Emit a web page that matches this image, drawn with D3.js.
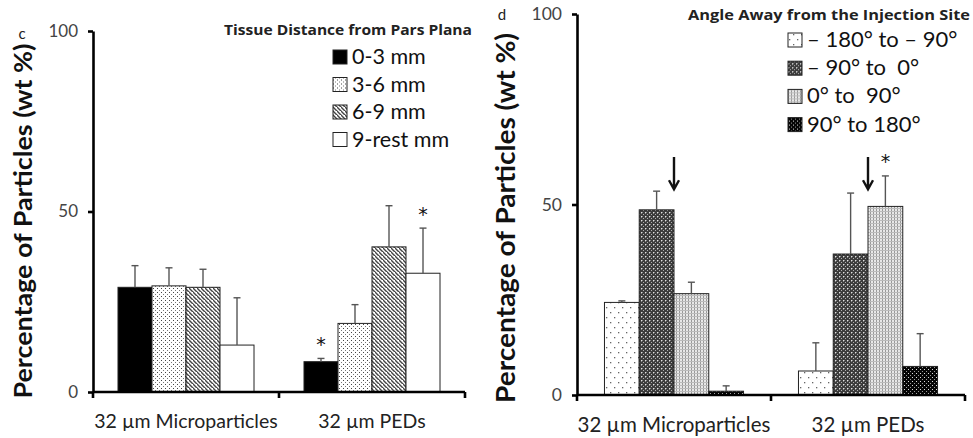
<!DOCTYPE html>
<html>
<head>
<meta charset="utf-8">
<script src="https://cdn.jsdelivr.net/npm/d3@7"></script>
<style>
  html, body { margin: 0; padding: 0; background: #fff; }
  svg { display: block; font-family: Lato, "Open Sans", sans-serif; }
  .pre { white-space: pre; }
</style>
</head>
<body>
<svg id="chart" width="973" height="438"></svg>
<script>
// ---- data ----
const categories = ["32 µm Microparticles", "32 µm PEDs"];
const yTicks = [0, 50, 100];

// panel c: tissue distance from pars plana
const distanceSeries = ["0-3 mm", "3-6 mm", "6-9 mm", "9-rest mm"];
const distanceMicro = [29.0, 29.4, 29.0, 13.0];
const distanceMicroErr = [6.0, 5.0, 5.0, 13.1];
const distancePED = [8.4, 19.0, 40.2, 32.9];
const distancePEDErr = [0.9, 5.2, 11.4, 12.5];
const distanceStars = [[1, 0], [1, 3]]; // [category, series]

// panel d: angle away from the injection site
const angleSeries = ["– 180° to – 90°", "– 90° to  0°", "0° to  90°", "90° to 180°"];
const angleMicro = [24.3, 48.6, 26.6, 1.0];
const angleMicroErr = [0.4, 4.9, 3.0, 1.4];
const anglePED = [6.3, 37.0, 49.5, 7.5];
const anglePEDErr = [7.4, 16.0, 8.0, 8.6];
const angleStars = [[1, 2]];
const angleArrows = [[0, 1], [1, 1]]; // arrow at right edge of these bars

const svg = d3.select("#chart");
const defs = svg.append("defs");

// ---- fill patterns ----
function pattern(id, w, h, bg, draw) {
  const p = defs.append("pattern").attr("id", id)
    .attr("patternUnits", "userSpaceOnUse").attr("width", w).attr("height", h);
  p.append("rect").attr("width", w).attr("height", h).attr("fill", bg);
  draw(p);
}
const dot = (p, x, y, c, s = 1) => p.append("rect").attr("x", x).attr("y", y)
  .attr("width", s).attr("height", s).attr("fill", c);

pattern("fineDots", 4, 4, "#fff", p => { dot(p, 0, 0, "#444"); dot(p, 2, 2, "#777"); });
pattern("hatch", 4, 4, "#fff", p => {
  p.append("path").attr("d", "M-1,-1 L5,5 M-3,1 L1,5 M3,-3 L7,1")
    .attr("stroke", "#444").attr("stroke-width", 1.4);
});
pattern("sparseDots", 8, 10, "#fff", p => { dot(p, 1, 2, "#666", 1.3); dot(p, 5, 7, "#666", 1.3); });
pattern("darkCheck", 4, 4, "#3c3c3c", p => {
  dot(p, 0, 0, "#e0e0e0"); dot(p, 2, 2, "#b0b0b0"); dot(p, 1, 0, "#888"); dot(p, 0, 1, "#888");
});
pattern("lightGrid", 3, 3, "#e8e8e8", p => {
  p.append("rect").attr("x", 0).attr("y", 0).attr("width", 1).attr("height", 3).attr("fill", "#999");
  p.append("rect").attr("x", 0).attr("y", 1).attr("width", 3).attr("height", 1).attr("fill", "#bbb");
});
pattern("blackDots", 4, 4, "#050505", p => { dot(p, 1, 1, "#ddd"); dot(p, 3, 3, "#999"); });

const distanceFills = ["#000", "url(#fineDots)", "url(#hatch)", "#fff"];
const angleFills = ["url(#sparseDots)", "url(#darkCheck)", "url(#lightGrid)", "url(#blackDots)"];

function panel(cfg) {
  const g = svg.append("g");
  const y = d3.scaleLinear().domain([0, 100]).range([cfg.y0, cfg.y100]);
  const x0 = d3.scaleBand().domain(categories).range([cfg.xL, cfg.xR]);
  const x1 = d3.scaleBand().domain(cfg.series).range([0, x0.bandwidth()])
    .paddingOuter(cfg.outerPad);

  const rows = categories.map((c, ci) => cfg.series.map((s, si) => ({
    c, s, ci, si, v: cfg.values[ci][si], e: cfg.errors[ci][si]
  })));

  // bars
  const bars = g.append("g").selectAll("g").data(rows).join("g")
    .attr("transform", d => `translate(${x0(d[0].c)},0)`);
  bars.selectAll("rect").data(d => d).join("rect")
    .attr("x", d => x1(d.s)).attr("width", x1.bandwidth())
    .attr("y", d => y(d.v)).attr("height", d => y(0) - y(d.v))
    .attr("fill", d => cfg.fills[d.si])
    .attr("stroke", "#222").attr("stroke-width", 1);

  // upper error bars
  const eb = bars.selectAll("g.err").data(d => d).join("g").attr("class", "err")
    .attr("stroke", "#555").attr("stroke-width", 1.4);
  eb.append("line")
    .attr("x1", d => x1(d.s) + x1.bandwidth() / 2).attr("x2", d => x1(d.s) + x1.bandwidth() / 2)
    .attr("y1", d => y(d.v)).attr("y2", d => y(d.v + d.e));
  eb.append("line")
    .attr("x1", d => x1(d.s) + x1.bandwidth() / 2 - 3.5).attr("x2", d => x1(d.s) + x1.bandwidth() / 2 + 3.5)
    .attr("y1", d => y(d.v + d.e)).attr("y2", d => y(d.v + d.e));

  // significance stars
  cfg.stars.forEach(([ci, si]) => {
    const d = rows[ci][si];
    g.append("text")
      .attr("x", x0(d.c) + x1(d.s) + x1.bandwidth() / 2)
      .attr("y", y(d.v + d.e + cfg.starGap))
      .attr("text-anchor", "middle").attr("font-size", 19).attr("fill", "#111")
      .attr("font-family", "'DejaVu Sans', sans-serif")
      .text("*");
  });

  // arrows
  (cfg.arrows || []).forEach(([ci, si]) => {
    const d = rows[ci][si];
    const ax = x0(d.c) + x1(d.s) + x1.bandwidth();
    const tip = y(54), top = y(62.5);
    g.append("path")
      .attr("d", `M${ax},${top} L${ax},${tip} M${ax - 5},${tip - 9} L${ax},${tip} L${ax + 5},${tip - 9}`)
      .attr("fill", "none").attr("stroke", "#111").attr("stroke-width", 2.4);
  });

  // y axis
  const yAxis = g.append("g").attr("transform", `translate(${cfg.xL},0)`)
    .call(d3.axisLeft(y).tickValues(yTicks).tickSize(5).tickPadding(cfg.tickPad).tickSizeOuter(0));
  yAxis.select(".domain").attr("stroke", "#000").attr("stroke-width", 2.6);
  yAxis.selectAll(".tick line").attr("stroke", "#000").attr("stroke-width", 2.6);
  yAxis.selectAll(".tick text").attr("font-size", cfg.tickSize).attr("fill", "#444")
    .attr("font-family", "Lato, sans-serif");

  // x axis
  const xAxis = g.append("g").attr("transform", `translate(0,${cfg.y0})`);
  xAxis.append("line").attr("x1", cfg.xL).attr("x2", cfg.xR)
    .attr("stroke", "#000").attr("stroke-width", 2.6);
  xAxis.selectAll("line.tk").data([...categories.map(c => x0(c)), cfg.xR]).join("line")
    .attr("class", "tk").attr("x1", d => d).attr("x2", d => d)
    .attr("y1", 0).attr("y2", 6).attr("stroke", "#000").attr("stroke-width", 2.6);
  xAxis.selectAll("text").data(categories).join("text")
    .attr("x", c => x0(c) + x0.bandwidth() / 2).attr("y", cfg.catDy)
    .attr("text-anchor", "middle").attr("font-size", cfg.catSize).attr("fill", "#222")
    .text(c => c);

  // y title
  g.append("text")
    .attr("transform", `translate(${cfg.yTitleX},${cfg.yTitleY}) rotate(-90)`)
    .attr("text-anchor", "middle").attr("font-size", cfg.yTitleSize).attr("font-weight", 700)
    .attr("fill", "#111")
    .attr("textLength", cfg.yTitleLen).attr("lengthAdjust", "spacingAndGlyphs")
    .text("Percentage of Particles (wt %)");

  // panel letter
  g.append("text").attr("x", cfg.letterX).attr("y", cfg.letterY)
    .attr("text-anchor", "middle").attr("font-size", 15).attr("fill", "#222").text(cfg.letter);

  // legend
  g.append("text").attr("x", cfg.legTitleX).attr("y", cfg.legTitleY)
    .attr("text-anchor", "middle").attr("font-size", 13.5).attr("font-weight", 700)
    .attr("font-family", "'Open Sans', sans-serif")
    .attr("textLength", cfg.legTitleLen).attr("lengthAdjust", "spacingAndGlyphs")
    .attr("fill", "#222").text(cfg.legTitle);
  const items = g.selectAll("g.leg").data(cfg.series).join("g").attr("class", "leg")
    .attr("transform", (d, i) => `translate(${cfg.legX},${cfg.legY0 + i * cfg.legStep})`);
  items.append("rect").attr("x", 0).attr("y", -14).attr("width", 14).attr("height", 14)
    .attr("fill", (d, i) => cfg.fills[i]).attr("stroke", "#222").attr("stroke-width", 1);
  items.append("text").attr("class", "pre").attr("x", 19).attr("y", 0)
    .attr("font-size", cfg.legSize).attr("fill", "#111").text(d => d);
}

panel({
  series: distanceSeries, fills: distanceFills,
  values: [distanceMicro, distancePED], errors: [distanceMicroErr, distancePEDErr],
  stars: distanceStars, starGap: 2.0,
  xL: 93, xR: 465, y0: 392, y100: 31, outerPad: 0.735, tickPad: 10, tickSize: 17,
  catDy: 36, catSize: 19.5,
  yTitleX: 32, yTitleY: 221, yTitleSize: 25, yTitleLen: 355,
  letter: "c", letterX: 22, letterY: 39,
  legTitle: "Tissue Distance from Pars Plana", legTitleX: 348, legTitleY: 35, legTitleLen: 248,
  legX: 333, legY0: 64, legStep: 27.5, legSize: 21.5
});

panel({
  series: angleSeries, fills: angleFills,
  values: [angleMicro, anglePED], errors: [angleMicroErr, anglePEDErr],
  stars: angleStars, starGap: 2.0, arrows: angleArrows,
  xL: 577, xR: 965, y0: 395, y100: 14, outerPad: 0.79, tickPad: 10, tickSize: 17.5,
  catDy: 37, catSize: 20.5,
  yTitleX: 515, yTitleY: 218, yTitleSize: 26, yTitleLen: 370,
  letter: "d", letterX: 502, letterY: 20,
  legTitle: "Angle Away from the Injection Site", legTitleX: 829, legTitleY: 20, legTitleLen: 282,
  legX: 788, legY0: 47, legStep: 28.2, legSize: 22
});
</script>
</body>
</html>
